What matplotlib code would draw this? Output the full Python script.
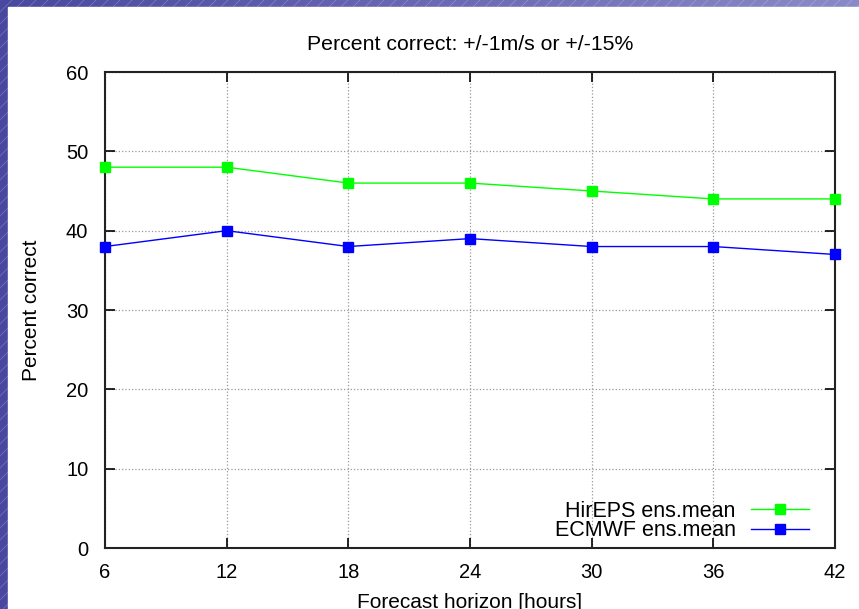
import numpy as np
import matplotlib.pyplot as plt
from matplotlib.patches import Rectangle
from matplotlib.colors import LinearSegmentedColormap

plt.rcParams['font.family'] = ['Liberation Sans', 'DejaVu Sans']

# Data
hours = [6, 12, 18, 24, 30, 36, 42]
hireps = [48, 48, 46, 46, 45, 44, 44]
ecmwf = [38, 40, 38, 39, 38, 38, 37]

W, H = 859, 609
fig = plt.figure(figsize=(W / 100, H / 100), dpi=100)

# background: blue gradient with thin diagonal stripes
bg = fig.add_axes([0, 0, 1, 1])
bg.set_xlim(0, W)
bg.set_ylim(H, 0)
bg.axis('off')
grad = np.linspace(0, 1, 256).reshape(1, -1)
cmap = LinearSegmentedColormap.from_list('bgc', ['#4848a0', '#8a8ac8'])
bg.imshow(grad, cmap=cmap, extent=[0, W, H, 0], aspect='auto')
for x0 in range(-H, W + 20, 12):
    bg.plot([x0, x0 + H], [H, 0], color='white', lw=0.5, alpha=0.25)
bg.add_patch(Rectangle((8, 7), W, H, color='white', zorder=5))

ax = fig.add_axes([105 / W, 1 - 548 / H, (835 - 105) / W, (548 - 72) / H])
ax.plot(hours, hireps, color='#00ff00', lw=1, marker='s', ms=6.5,
        label='HirEPS ens.mean', clip_on=False, zorder=3)
ax.plot(hours, ecmwf, color='#0000ff', lw=1, marker='s', ms=6.5,
        label='ECMWF ens.mean', clip_on=False, zorder=3)

ax.set_xlim(6, 42)
ax.set_ylim(0, 60)
ax.set_xticks(hours)
ax.set_yticks(range(0, 61, 10))
ax.tick_params(direction='in', top=True, right=True, labelsize=14.5, length=7, width=1.2)
ax.tick_params(axis='x', pad=11)
ax.tick_params(axis='y', pad=12)
ax.grid(True, linestyle=':', color='#999999', lw=0.9)
for s in ax.spines.values():
    s.set_linewidth(1.5)
    s.set_color('#222222')

ax.set_title('Percent correct: +/-1m/s or +/-15%', fontsize=15.3, pad=16)
ax.set_xlabel('Forecast horizon [hours]', fontsize=15, labelpad=8)
ax.set_ylabel('Percent correct', fontsize=15, labelpad=18)

ax.legend(loc='lower right', frameon=False, markerfirst=False, fontsize=15.5,
          handlelength=2.7, handletextpad=0.7, labelspacing=-0.05,
          borderaxespad=0.3, bbox_to_anchor=(0.985, -0.018))

fig.savefig('out.png', dpi=100)
